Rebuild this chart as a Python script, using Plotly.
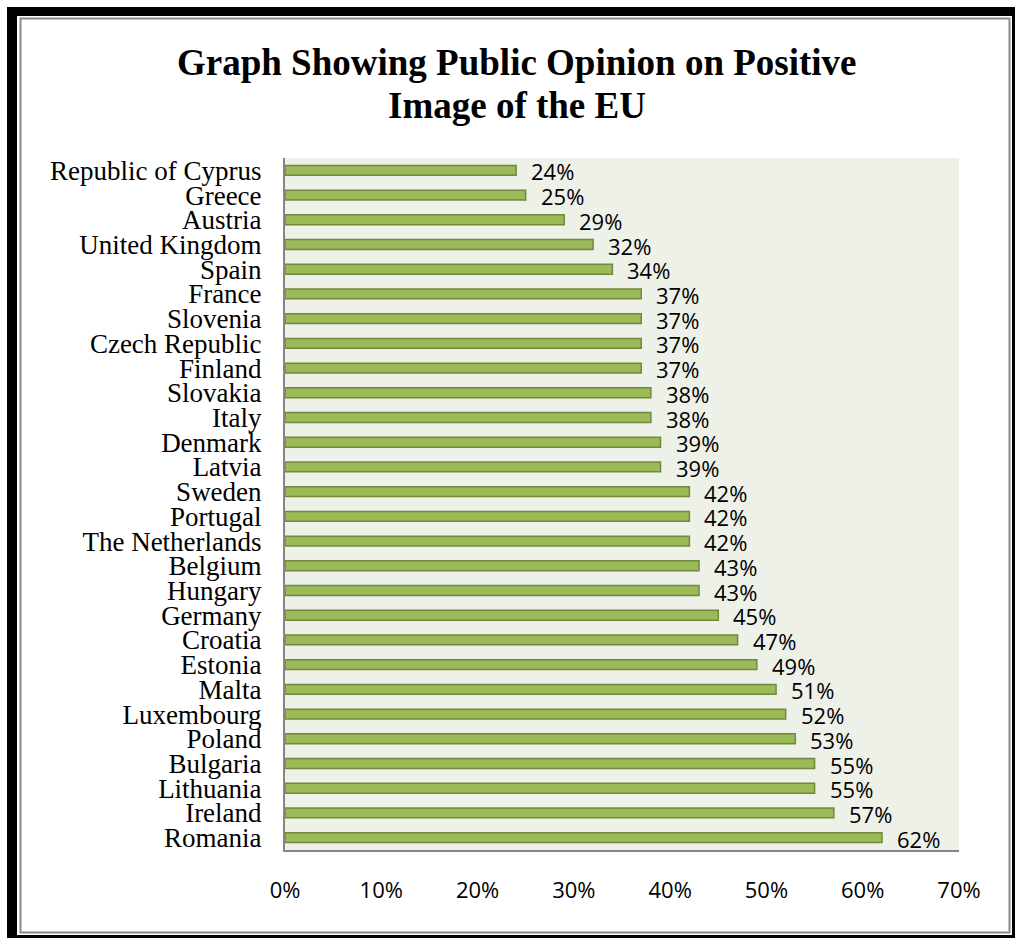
import plotly.graph_objects as go

countries = ["Republic of Cyprus", "Greece", "Austria", "United Kingdom", "Spain", "France",
             "Slovenia", "Czech Republic", "Finland", "Slovakia", "Italy", "Denmark", "Latvia",
             "Sweden", "Portugal", "The Netherlands", "Belgium", "Hungary", "Germany", "Croatia",
             "Estonia", "Malta", "Luxembourg", "Poland", "Bulgaria", "Lithuania", "Ireland", "Romania"]
values = [24, 25, 29, 32, 34, 37, 37, 37, 37, 38, 38, 39, 39, 42, 42, 42, 43, 43, 45, 47,
          49, 51, 52, 53, 55, 55, 57, 62]
x_ticks = [0, 10, 20, 30, 40, 50, 60, 70]
x_tick_labels = [f"{v}%" for v in x_ticks]
title_lines = ["Graph Showing Public Opinion on Positive", "Image of the EU"]

W, H = 1017, 940
L, R, T, B = 285, 959, 158, 850

def px_x(p):
    return (p - L) / (R - L)

def px_y(p):
    return (B - p) / (B - T)

fig = go.Figure()
fig.add_trace(go.Bar(
    y=countries, x=values, orientation="h", width=0.4,
    marker=dict(color="#9BBB59", line=dict(color="#71893F", width=1.5)),
    hoverinfo="skip",
))

for c, v in zip(countries, values):
    fig.add_annotation(x=v, y=c, text=f"{v}%", showarrow=False, xanchor="left",
                       xshift=13, yshift=-1,
                       font=dict(family="Open Sans", size=22, color="black"))

for txt, yc in zip(title_lines, [62, 105]):
    fig.add_annotation(xref="paper", yref="paper", x=px_x(517), y=px_y(yc),
                       xanchor="center", yanchor="middle", showarrow=False, text=txt,
                       font=dict(family="Liberation Serif", size=37, color="black", weight="bold"))

shapes = []
def rect(x0, y0, x1, y1, fill=None, line=None, lw=0):
    shapes.append(dict(type="rect", xref="paper", yref="paper", layer="below",
                       x0=px_x(x0), x1=px_x(x1), y0=px_y(y1), y1=px_y(y0),
                       fillcolor=fill if fill else "rgba(0,0,0,0)",
                       line=dict(color=line if line else "rgba(0,0,0,0)", width=lw)))

rect(7, 7, 1015, 938, fill="black")
rect(17, 16, 1012, 935, fill="white")
rect(20.5, 18.5, 1009.5, 932.5, line="#8a8a8a", lw=2)
rect(L, T, R, B, fill="#EEF1E8")

n = len(countries)
fig.update_layout(
    width=W, height=H,
    margin=dict(l=L, r=W - R, t=T, b=H - B, pad=0),
    paper_bgcolor="white", plot_bgcolor="rgba(0,0,0,0)",
    shapes=shapes,
    showlegend=False,
    xaxis=dict(range=[0, 70], tickvals=x_ticks, ticktext=x_tick_labels,
               showgrid=False, zeroline=False, showline=True, linecolor="#868686", linewidth=2,
               ticks="", ticklabelstandoff=20,
               tickfont=dict(family="Open Sans", size=22, color="black")),
    yaxis=dict(range=[n - 0.5, -0.5], autorange=False, tickmode="array", tickvals=countries,
               showgrid=False, showline=True, linecolor="#868686",
               linewidth=2, ticks="", ticklabelstandoff=16,
               tickfont=dict(family="Liberation Serif", size=27, color="black")),
)

fig.write_html("out.html")
